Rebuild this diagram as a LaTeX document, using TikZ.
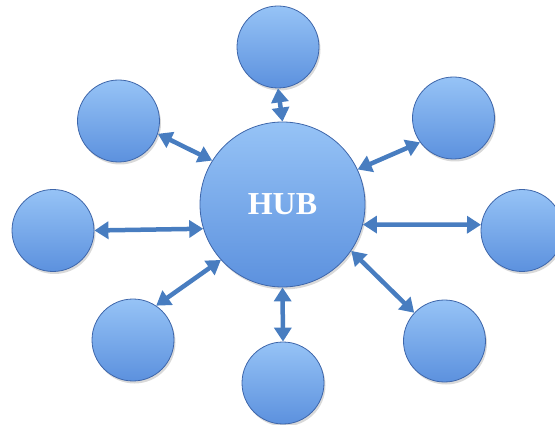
\documentclass[tikz,border=0pt]{standalone}
\usepackage{fontspec}
\setmainfont{Liberation Serif}
\usetikzlibrary{arrows.meta,shadows}

\definecolor{balltop}{RGB}{150,195,246}
\definecolor{ballbot}{RGB}{92,145,222}
\definecolor{rimc}{RGB}{62,102,170}
\definecolor{arrowc}{RGB}{72,125,192}

\begin{document}
\begin{tikzpicture}[x=1pt,y=-1pt,
    ball/.style={circle,draw=rimc,line width=0.8pt,top color=balltop,bottom color=ballbot,
        inner sep=0pt,minimum size=82pt,
        drop shadow={shadow xshift=1.5pt,shadow yshift=-2.5pt,opacity=0.3}},
    link/.style={draw=arrowc,line width=4.5pt,
        {Triangle[width=17pt,length=14pt]}-{Triangle[width=17pt,length=14pt]}}]
    % 画布范围
    \useasboundingbox (0,0) rectangle (555,425);

    % 中心
    \node[ball,minimum size=165pt] (H) at (282.5,204.5)
        {\color{white}\fontsize{32}{32}\selectfont\bfseries HUB};

    % 周围的圆
    \node[ball] (N1) at (278,47) {};
    \node[ball] (N2) at (118.5,121) {};
    \node[ball] (N3) at (453.5,118) {};
    \node[ball] (N4) at (53,230.5) {};
    \node[ball] (N5) at (522,230.5) {};
    \node[ball] (N6) at (133,340) {};
    \node[ball] (N7) at (444.5,341) {};
    \node[ball] (N8) at (283,383) {};

    % 双向箭头
    \draw[link] (N1.south) -- (H.north);
    \draw[link] (N2.-18) -- (H.148);
    \draw[link] (N3.216) -- (H.25);
    \draw[link] (N4.east) -- (H.197);
    \draw[link] (N5.172) -- (H.-14);
    \draw[link] (N6.56) -- (H.222);
    \draw[link] (N7.137) -- (H.-34);
    \draw[link] (N8.north) -- (H.south);
\end{tikzpicture}
\end{document}
